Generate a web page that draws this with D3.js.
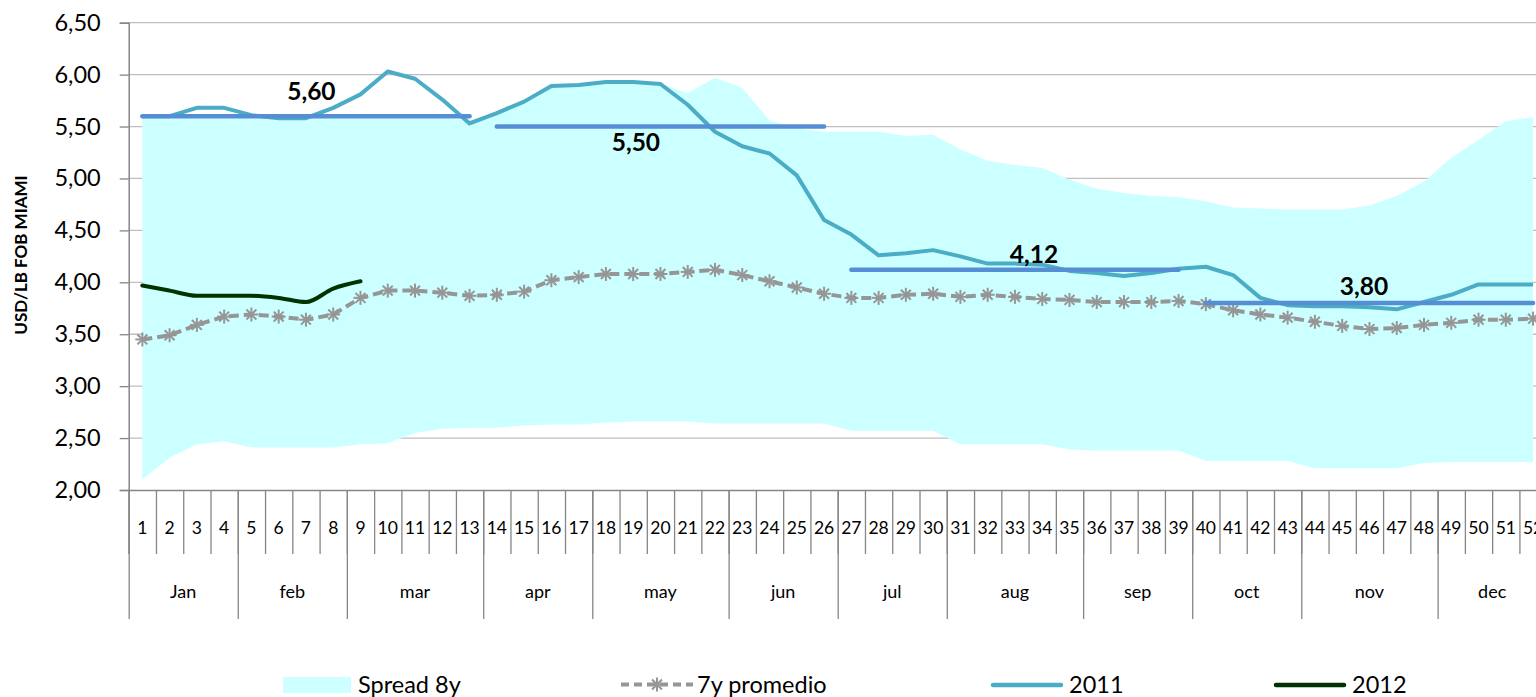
<!DOCTYPE html>
<html>
<head>
<meta charset="utf-8">
<script src="https://cdn.jsdelivr.net/npm/d3@7"></script>
<style>
  body { margin: 0; background: #fff; }
  svg { display: block; font-family: Lato, "Liberation Sans", sans-serif; }
</style>
</head>
<body>
<script>
// weeks and months on the category axis
var weeks = d3.range(1, 53);
var months = ["Jan", "feb", "mar", "apr", "may", "jun", "jul", "aug", "sep", "oct", "nov", "dec"];
var monthWeeks = [4, 4, 5, 4, 5, 4, 4, 5, 4, 4, 5, 4];
var yTicks = [2, 2.5, 3, 3.5, 4, 4.5, 5, 5.5, 6, 6.5];

// spread of 8 years (min / max)
var spreadLow = [2.10, 2.31, 2.44, 2.47, 2.41, 2.41, 2.41, 2.41, 2.44, 2.45,
  2.55, 2.59, 2.60, 2.60, 2.62, 2.63, 2.63, 2.65, 2.66, 2.66,
  2.66, 2.64, 2.64, 2.64, 2.64, 2.64, 2.57, 2.57, 2.57, 2.57,
  2.44, 2.44, 2.44, 2.44, 2.39, 2.38, 2.38, 2.38, 2.38, 2.28,
  2.28, 2.28, 2.28, 2.21, 2.21, 2.21, 2.21, 2.26, 2.27, 2.27,
  2.27, 2.27];
var spreadHigh = [5.58, 5.58, 5.58, 5.58, 5.58, 5.58, 5.58, 5.58, 5.58, 5.58,
  5.58, 5.58, 5.56, 5.62, 5.74, 5.89, 5.90, 5.93, 5.93, 5.91,
  5.82, 5.97, 5.87, 5.56, 5.48, 5.45, 5.45, 5.45, 5.41, 5.42,
  5.28, 5.17, 5.13, 5.10, 4.99, 4.90, 4.86, 4.83, 4.82, 4.78,
  4.72, 4.71, 4.70, 4.70, 4.70, 4.74, 4.83, 4.97, 5.20, 5.37,
  5.55, 5.59];
var avg7 = [3.45, 3.49, 3.59, 3.67, 3.69, 3.67, 3.64, 3.69, 3.85, 3.92,
  3.92, 3.90, 3.87, 3.88, 3.91, 4.02, 4.05, 4.08, 4.08, 4.08,
  4.10, 4.12, 4.07, 4.01, 3.95, 3.89, 3.85, 3.85, 3.88, 3.89,
  3.86, 3.88, 3.86, 3.84, 3.83, 3.81, 3.81, 3.81, 3.82, 3.79,
  3.73, 3.69, 3.66, 3.62, 3.58, 3.55, 3.56, 3.59, 3.61, 3.64,
  3.64, 3.65];
var s2011 = [5.60, 5.60, 5.68, 5.68, 5.61, 5.58, 5.58, 5.68, 5.81, 6.03,
  5.96, 5.76, 5.53, 5.63, 5.74, 5.89, 5.90, 5.93, 5.93, 5.91,
  5.71, 5.45, 5.31, 5.24, 5.03, 4.60, 4.46, 4.26, 4.28, 4.31,
  4.25, 4.18, 4.18, 4.17, 4.11, 4.09, 4.06, 4.09, 4.13, 4.15,
  4.07, 3.85, 3.78, 3.77, 3.77, 3.76, 3.74, 3.81, 3.88, 3.98,
  3.98, 3.98];
var s2012 = [3.97, 3.92, 3.87, 3.87, 3.87, 3.85, 3.81, 3.94, 4.01];

// period price levels (blue bars)
var levels = [5.60, 5.50, 4.12, 3.80];
var levelFrom = [1, 14, 27, 40];
var levelTo = [13, 26, 39, 52];

var W = 1536, H = 697;
var plotLeft = 128.7, plotRight = 1546.7, plotTop = 22.7, plotBottom = 490;

var svg = d3.select("body").append("svg")
  .attr("width", W)
  .attr("height", H);

var x = d3.scaleLinear().domain([0.5, 52.5]).range([plotLeft, plotRight]);
var y = d3.scaleLinear().domain([2, 6.5]).range([plotBottom, plotTop]);

var loc = d3.formatLocale({decimal: ",", thousands: ".", grouping: [3], currency: ["", ""]});
var fmt = loc.format(".2f");

// gridlines
svg.append("g").selectAll("line")
  .data(yTicks.slice(1))
  .enter().append("line")
  .attr("x1", plotLeft).attr("x2", plotRight)
  .attr("y1", function(d){ return y(d); })
  .attr("y2", function(d){ return y(d); })
  .attr("stroke", "#bfbfbf")
  .attr("stroke-width", 1.3);

// spread area
var area = d3.area()
  .x(function(d, i){ return x(weeks[i]); })
  .y0(function(d, i){ return y(spreadLow[i]); })
  .y1(function(d){ return y(d); });
svg.append("path")
  .datum(spreadHigh)
  .attr("d", area)
  .attr("fill", "#ccffff");

// y axis
var yAxis = svg.append("g")
  .attr("transform", "translate(" + plotLeft + ",0)")
  .call(d3.axisLeft(y).tickValues(yTicks).tickSize(9).tickPadding(19).tickFormat(fmt));
yAxis.select(".domain").attr("stroke", "#868686").attr("stroke-width", 1.5);
yAxis.selectAll(".tick line").attr("stroke", "#868686").attr("stroke-width", 1.3);
yAxis.selectAll(".tick text")
  .attr("font-family", "Lato, sans-serif")
  .attr("font-size", 23.5)
  .attr("fill", "#000");

// x axis: week ticks and month ticks
var weekBounds = d3.range(0, 53).map(function(k){ return k + 0.5; });
var monthBounds = [0.5];
monthWeeks.forEach(function(n, i){ monthBounds.push(monthBounds[i] + n); });

var xAxisWeeks = svg.append("g")
  .attr("transform", "translate(0," + plotBottom + ")")
  .call(d3.axisBottom(x).tickValues(weekBounds).tickSize(64).tickFormat(""));
xAxisWeeks.select(".domain").attr("stroke", "#868686").attr("stroke-width", 1.5);
xAxisWeeks.selectAll(".tick line").attr("stroke", "#868686").attr("stroke-width", 1.3);

var xAxisMonths = svg.append("g")
  .attr("transform", "translate(0," + plotBottom + ")")
  .call(d3.axisBottom(x).tickValues(monthBounds).tickSize(129).tickFormat(""));
xAxisMonths.select(".domain").remove();
xAxisMonths.selectAll(".tick line").attr("stroke", "#868686").attr("stroke-width", 1.3);

svg.append("g").selectAll("text")
  .data(weeks)
  .enter().append("text")
  .attr("x", function(d){ return x(d); })
  .attr("y", 533.5)
  .attr("text-anchor", "middle")
  .attr("font-size", 17.5)
  .text(function(d){ return d; });

svg.append("g").selectAll("text")
  .data(months)
  .enter().append("text")
  .attr("x", function(d, i){ return x((monthBounds[i] + monthBounds[i + 1]) / 2); })
  .attr("y", 598)
  .attr("text-anchor", "middle")
  .attr("font-size", 18)
  .text(function(d){ return d; });

// y title
svg.append("text")
  .attr("transform", "translate(27,255) rotate(-90)")
  .attr("text-anchor", "middle")
  .attr("font-size", 17)
  .attr("font-weight", "bold")
  .text("USD/LB FOB MIAMI");

// 7y average with star markers
var line = d3.line()
  .x(function(d, i){ return x(weeks[i]); })
  .y(function(d){ return y(d); });

svg.append("path")
  .datum(avg7)
  .attr("d", line)
  .attr("fill", "none")
  .attr("stroke", "#969696")
  .attr("stroke-width", 4)
  .attr("stroke-dasharray", "10,5");

function star(g, r){
  [0, 45, 90, 135].forEach(function(a){
    var rad = a * Math.PI / 180;
    g.append("line")
      .attr("x1", -r * Math.sin(rad)).attr("y1", -r * Math.cos(rad))
      .attr("x2", r * Math.sin(rad)).attr("y2", r * Math.cos(rad));
  });
}
svg.append("g").selectAll("g")
  .data(avg7)
  .enter().append("g")
  .attr("transform", function(d, i){ return "translate(" + x(weeks[i]) + "," + y(d) + ")"; })
  .attr("stroke", "#969696")
  .attr("stroke-width", 2)
  .each(function(){ star(d3.select(this), 7); });

// 2011
svg.append("path")
  .datum(s2011)
  .attr("d", line)
  .attr("fill", "none")
  .attr("stroke", "#4bacc6")
  .attr("stroke-width", 4)
  .attr("stroke-linejoin", "round");

// 2012
svg.append("path")
  .datum(s2012)
  .attr("d", line.curve(d3.curveMonotoneX))
  .attr("fill", "none")
  .attr("stroke", "#003300")
  .attr("stroke-width", 4)
  .attr("stroke-linecap", "round");

// price levels
svg.append("g").selectAll("line")
  .data(levels)
  .enter().append("line")
  .attr("x1", function(d, i){ return x(levelFrom[i]); })
  .attr("x2", function(d, i){ return x(levelTo[i]); })
  .attr("y1", function(d){ return y(d); })
  .attr("y2", function(d){ return y(d); })
  .attr("stroke", "#558ed5")
  .attr("stroke-width", 4.5)
  .attr("stroke-linecap", "round");

// level labels: anchor week and vertical offset
var labelWeek = [7.2, 19.1, 33.7, 45.8];
var labelDy = [-16, 24, -7, -8];
svg.append("g").selectAll("text")
  .data(levels)
  .enter().append("text")
  .attr("x", function(d, i){ return x(labelWeek[i]); })
  .attr("y", function(d, i){ return y(d) + labelDy[i]; })
  .attr("text-anchor", "middle")
  .attr("font-size", 24.5)
  .attr("font-weight", "bold")
  .text(function(d){ return fmt(d); });

// legend
var leg = svg.append("g");
leg.append("rect").attr("x", 283).attr("y", 677).attr("width", 68).attr("height", 16).attr("fill", "#ccffff");
leg.append("line").attr("x1", 621).attr("x2", 693).attr("y1", 684.5).attr("y2", 684.5)
  .attr("stroke", "#969696").attr("stroke-width", 4).attr("stroke-dasharray", "8,5");
var ls = leg.append("g").attr("transform", "translate(657,684.5)")
  .attr("stroke", "#969696").attr("stroke-width", 2);
star(ls, 7);
leg.append("line").attr("x1", 993).attr("x2", 1061).attr("y1", 685).attr("y2", 685)
  .attr("stroke", "#4bacc6").attr("stroke-width", 4.5).attr("stroke-linecap", "round");
leg.append("line").attr("x1", 1276).attr("x2", 1344).attr("y1", 685).attr("y2", 685)
  .attr("stroke", "#003300").attr("stroke-width", 4.5).attr("stroke-linecap", "round");

var legNames = ["Spread 8y", "7y promedio", "2011", "2012"];
var legX = [358, 697, 1069, 1352];
leg.selectAll("text")
  .data(legNames)
  .enter().append("text")
  .attr("x", function(d, i){ return legX[i]; })
  .attr("y", 692.5)
  .attr("font-size", 23.5)
  .text(function(d){ return d; });
</script>
</body>
</html>
